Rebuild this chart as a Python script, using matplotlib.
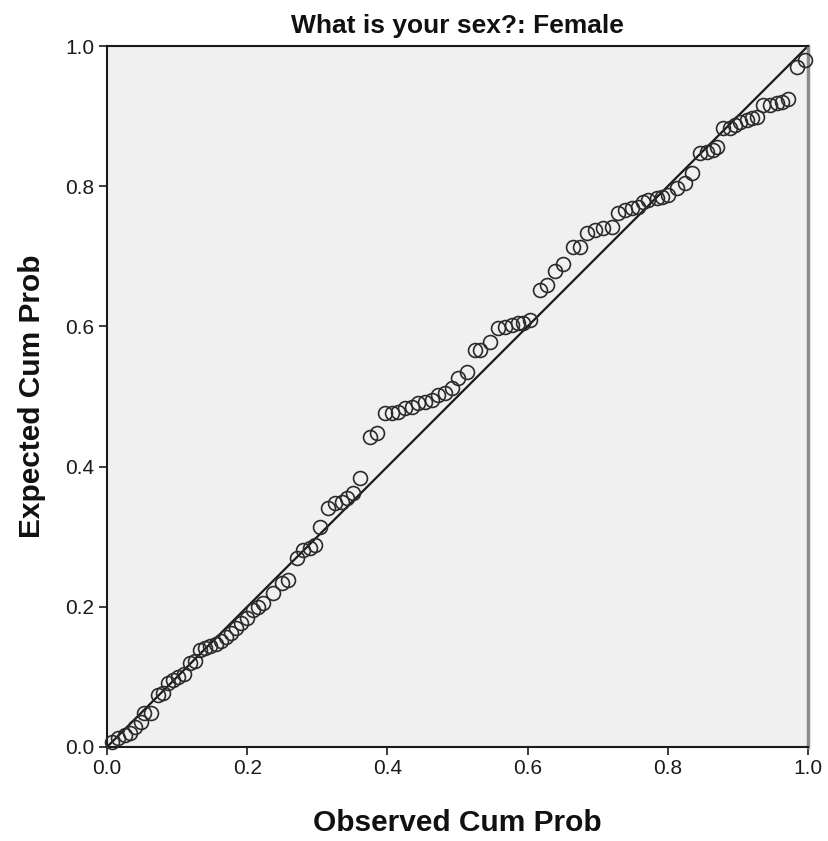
import matplotlib
matplotlib.use("Agg")
import matplotlib.pyplot as plt

plt.rcParams['font.family'] = ['Liberation Sans', 'DejaVu Sans']

# Observed cumulative probability (x) and expected cumulative probability (y)
observed = [0.007, 0.016, 0.026, 0.033, 0.040, 0.049, 0.053, 0.063, 0.073, 0.080,
            0.087, 0.094, 0.101, 0.110, 0.118, 0.126, 0.133, 0.140, 0.147, 0.155,
            0.163, 0.170, 0.177, 0.184, 0.191, 0.200, 0.208, 0.215, 0.222, 0.237,
            0.250, 0.258, 0.271, 0.280, 0.290, 0.297, 0.304, 0.315, 0.325, 0.335,
            0.342, 0.351, 0.361, 0.375, 0.385,
            0.397, 0.407, 0.415, 0.425, 0.435, 0.444, 0.454, 0.464, 0.472, 0.482,
            0.492, 0.501, 0.514,
            0.525, 0.532, 0.546, 0.558, 0.568, 0.578, 0.586, 0.593, 0.603, 0.618,
            0.628, 0.639, 0.650,
            0.665, 0.675, 0.685, 0.696, 0.708, 0.720, 0.729, 0.739, 0.749, 0.757,
            0.765, 0.772, 0.785, 0.792, 0.800, 0.813, 0.825, 0.835,
            0.846, 0.856, 0.864, 0.870, 0.879, 0.889, 0.896, 0.903, 0.913, 0.920,
            0.927, 0.936, 0.946, 0.956, 0.963, 0.971, 0.984, 0.996]
expected = [0.007, 0.013, 0.017, 0.020, 0.029, 0.036, 0.049, 0.049, 0.074, 0.077,
            0.091, 0.096, 0.100, 0.104, 0.120, 0.123, 0.138, 0.141, 0.144, 0.147,
            0.151, 0.157, 0.163, 0.170, 0.177, 0.184, 0.195, 0.200, 0.205, 0.220,
            0.234, 0.238, 0.270, 0.281, 0.284, 0.288, 0.314, 0.341, 0.348, 0.350,
            0.355, 0.362, 0.384, 0.442, 0.448,
            0.476, 0.476, 0.478, 0.484, 0.485, 0.491, 0.492, 0.495, 0.502, 0.505,
            0.512, 0.526, 0.535,
            0.566, 0.566, 0.578, 0.598, 0.599, 0.602, 0.605, 0.605, 0.609, 0.652,
            0.659, 0.679, 0.689,
            0.713, 0.713, 0.733, 0.738, 0.740, 0.742, 0.762, 0.766, 0.769, 0.770,
            0.777, 0.780, 0.783, 0.785, 0.787, 0.797, 0.805, 0.819,
            0.847, 0.849, 0.852, 0.856, 0.883, 0.883, 0.887, 0.892, 0.894, 0.897,
            0.899, 0.916, 0.916, 0.919, 0.920, 0.924, 0.970, 0.980]

ref_line = [0.0, 1.0]
ticks = [0.0, 0.2, 0.4, 0.6, 0.8, 1.0]
tick_labels = ["0.0", "0.2", "0.4", "0.6", "0.8", "1.0"]

title = "What is your sex?: Female"
xlabel = "Observed Cum Prob"
ylabel = "Expected Cum Prob"

fig = plt.figure(figsize=(8.29, 8.41), dpi=100)
ax = fig.add_axes([107/829, 94/841, 701/829, 701/841])
ax.set_facecolor('#F0F0F0')

ax.plot(ref_line, ref_line, color='#1a1a1a', lw=1.6, zorder=2)
ax.plot(observed, expected, linestyle='none', marker='o', markersize=10,
        markerfacecolor='none', markeredgecolor='#2b2b2b', markeredgewidth=1.2,
        clip_on=False, zorder=3)

ax.set_xlim(0, 1)
ax.set_ylim(0, 1)
ax.set_xticks(ticks)
ax.set_xticklabels(tick_labels)
ax.set_yticks(ticks)
ax.set_yticklabels(tick_labels)
ax.tick_params(axis='both', direction='out', length=6, width=1.2,
               labelsize=15, colors='#1a1a1a', pad=3)

for side in ['left', 'bottom', 'top']:
    ax.spines[side].set_color('#1a1a1a')
    ax.spines[side].set_linewidth(1.5)
ax.spines['right'].set_color('#8c8c8c')
ax.spines['right'].set_linewidth(2.5)

ax.set_title(title, fontsize=19, fontweight='bold', pad=9, color='#111111')
ax.set_xlabel(xlabel, fontsize=21.5, fontweight='bold', labelpad=22, color='#111111')
ax.set_ylabel(ylabel, fontsize=21.5, fontweight='bold', labelpad=14, color='#111111')

fig.savefig('out.png', dpi=100, facecolor='white')
